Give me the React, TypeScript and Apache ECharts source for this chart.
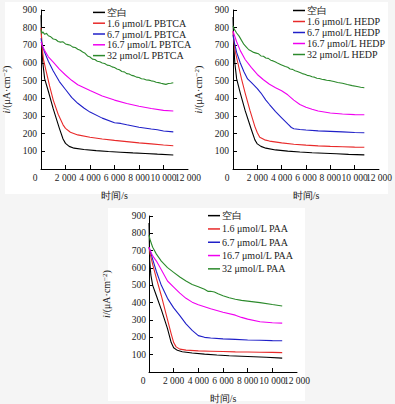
import React, { useEffect, useRef } from "react";
import * as echarts from "echarts";

type P = [number, number][];

const pbtcaNames = ["空白", "1.6 μmol/L PBTCA", "6.7 μmol/L PBTCA", "16.7 μmol/L PBTCA", "32 μmol/L PBTCA"];
const hedpNames = ["空白", "1.6 μmol/L HEDP", "6.7 μmol/L HEDP", "16.7 μmol/L HEDP", "32 μmol/L HEDP"];
const paaNames = ["空白", "1.6 μmol/L PAA", "6.7 μmol/L PAA", "16.7 μmol/L PAA", "32 μmol/L PAA"];

const xTicks = [0, 2000, 4000, 6000, 8000, 10000, 12000];
const yTicks = [0, 100, 200, 300, 400, 500, 600, 700, 800, 900];

// PBTCA
const pbtcaBlank: P = [[0,870],[50,720],[150,600],[300,510],[600,440],[1000,340],[1500,230],[1800,170],[2000,145],[2300,128],[2700,118],[3500,110],[4500,104],[5500,99],[6500,95],[7500,91],[8500,88],[9500,84],[10800,79]];
const pbtca16: P = [[0,800],[80,700],[200,620],[400,560],[700,470],[1000,390],[1400,310],[1800,250],[2000,230],[2400,208],[3000,193],[4000,180],[5000,170],[6000,162],[7000,155],[8000,148],[9000,142],[10000,136],[10800,132]];
const pbtca67: P = [[0,740],[100,700],[300,660],[600,610],[1000,555],[1500,495],[2000,450],[2500,405],[3000,372],[3500,345],[4000,322],[5000,288],[6000,262],[6500,258],[7000,250],[8000,236],[9000,226],[9500,222],[10000,215],[10800,210]];
const pbtca167: P = [[0,720],[100,700],[300,670],[600,635],[1000,605],[1500,565],[2000,532],[2500,502],[3000,477],[4000,444],[5000,413],[6000,390],[7000,371],[8000,355],[9000,342],[10000,332],[10800,328]];
const pbtca32: P = [[0,790],[60,768],[150,776],[300,762],[450,768],[600,754],[800,748],[1000,736],[1200,733],[1400,722],[1600,718],[1800,720],[2000,708],[2200,704],[2400,700],[2600,690],[2800,688],[3000,678],[3200,672],[3400,662],[3600,655],[3800,640],[4000,634],[4200,622],[4400,620],[4600,610],[4800,607],[5000,600],[5200,597],[5400,588],[5600,586],[5800,578],[6000,574],[6200,566],[6400,562],[6600,552],[6800,550],[7000,540],[7200,538],[7400,530],[7600,527],[7800,520],[8000,518],[8200,511],[8400,509],[8600,504],[8800,503],[9000,499],[9200,497],[9400,491],[9600,489],[9800,485],[10000,482],[10200,479],[10400,484],[10600,485],[10800,488]];

// HEDP
const hedpBlank: P = [[0,860],[50,720],[150,600],[300,510],[600,430],[1000,330],[1500,225],[1800,165],[2000,142],[2300,128],[2700,118],[3500,108],[4500,101],[5500,96],[6500,92],[7500,89],[8500,86],[9500,83],[10800,80]];
const hedp16: P = [[0,780],[80,720],[200,660],[400,600],[700,510],[1000,430],[1400,330],[1800,240],[2000,205],[2200,180],[2600,165],[3000,158],[4000,148],[5000,140],[6000,135],[7000,131],[8000,128],[9000,126],[10000,124],[10800,123]];
const hedp67: P = [[0,760],[100,720],[300,660],[600,600],[900,550],[1200,510],[1500,490],[2000,455],[2300,430],[2700,390],[3000,365],[3500,325],[4000,290],[4500,255],[4800,235],[5000,228],[5500,224],[6000,221],[7000,216],[8000,213],[9000,210],[10000,207],[10800,205]];
const hedp167: P = [[0,780],[100,760],[300,720],[600,670],[1000,620],[1500,575],[2000,535],[2500,505],[3000,480],[3500,460],[4000,443],[4500,420],[5000,390],[5500,365],[6000,350],[6500,338],[7000,328],[8000,317],[9000,311],[10000,308],[10800,307]];
const hedp32: P = [[0,810],[100,792],[300,770],[500,752],[700,728],[900,705],[1100,690],[1300,675],[1500,668],[1700,660],[1900,656],[2100,652],[2300,640],[2500,638],[2700,628],[2900,626],[3100,616],[3300,612],[3500,606],[3700,598],[3900,592],[4100,586],[4300,580],[4500,576],[4700,566],[4900,564],[5100,556],[5300,552],[5500,546],[5700,540],[5900,536],[6100,530],[6300,528],[6500,522],[6700,520],[6900,514],[7100,512],[7300,508],[7500,506],[7700,502],[8000,500],[8300,495],[8600,490],[9000,485],[9400,478],[9800,472],[10200,467],[10500,463],[10800,460]];

// PAA
const paaBlank: P = [[0,860],[50,650],[150,560],[300,500],[600,440],[1000,360],[1500,250],[1800,170],[2000,140],[2300,125],[2700,117],[3500,110],[4500,103],[5500,98],[6500,94],[7500,91],[8500,88],[9500,85],[10800,80]];
const paa16: P = [[0,720],[100,680],[300,620],[600,540],[1000,440],[1400,330],[1800,220],[2000,170],[2200,145],[2500,132],[3000,126],[4000,122],[5000,120],[6000,118],[7000,116],[8000,115],[9000,114],[10000,113],[10800,112]];
const paa67: P = [[0,720],[100,700],[300,650],[600,580],[1000,500],[1500,425],[2000,370],[2500,325],[3000,278],[3500,240],[4000,210],[4500,200],[5000,196],[6000,191],[7000,188],[8000,185],[9000,183],[10000,181],[10800,180]];
const paa167: P = [[0,720],[100,700],[300,670],[600,640],[1000,590],[1500,525],[2000,490],[2500,455],[3000,425],[3500,403],[4000,388],[5000,365],[6000,345],[7000,328],[7500,315],[8000,305],[9000,290],[10000,284],[10800,282]];
const paa32: P = [[0,790],[100,760],[300,720],[600,680],[1000,640],[1500,602],[2000,575],[2500,548],[3000,525],[3500,505],[4000,492],[4500,477],[4800,465],[5000,466],[5300,462],[5600,452],[6000,440],[6500,428],[7000,420],[7500,413],[8000,409],[9000,400],[10000,389],[10800,381]];

const colors = ["#000000", "#e82a2a", "#2020c8", "#f000f0", "#2c8a2c"];

const FONT = "Liberation Serif";

const fmtX = (v: number) => (v === 0 ? "{z|0}" : `${v / 1000} 000`);

export default function App() {
  const ref = useRef<HTMLDivElement>(null);
  useEffect(() => {
    if (!ref.current) return;
    const chart = echarts.init(ref.current, null, { renderer: "svg" });
    const groups = [
      { names: pbtcaNames, data: [pbtcaBlank, pbtca16, pbtca67, pbtca167, pbtca32] },
      { names: hedpNames, data: [hedpBlank, hedp16, hedp67, hedp167, hedp32] },
      { names: paaNames, data: [paaBlank, paa16, paa67, paa167, paa32] },
    ];
    const grids = [
      { left: 38, top: 10, width: 150, height: 159 },
      { left: 233, top: 10, width: 147, height: 159 },
      { left: 149, top: 216, width: 148, height: 159 },
    ];
    const yNameGaps = [29, 29, 37];
    const legendPos = [
      { left: 93, top: 7, lh: 10.8 },
      { left: 293, top: 5, lh: 11 },
      { left: 208, top: 209, lh: 13.3 },
    ];
    const labelStyle = { fontFamily: FONT, fontSize: 9.5, color: "#222" };
    const lastX = xTicks[xTicks.length - 1];
    const series: any[] = [];
    groups.forEach((g, gi) => {
      g.data.forEach((d, si) => {
        series.push({
          type: "line",
          name: g.names[si],
          xAxisIndex: gi,
          yAxisIndex: gi,
          data: d,
          showSymbol: false,
          symbol: "none",
          lineStyle: { color: colors[si], width: 1.1 },
          itemStyle: { color: colors[si] },
        });
      });
    });
    const mainX = grids.map((_, i) => ({
      type: "value",
      gridIndex: i,
      position: "bottom",
      offset: 0,
      min: xTicks[0],
      max: lastX,
      interval: 2000,
      name: "时间/s",
      nameLocation: "middle",
      nameGap: 21,
      nameTextStyle: { fontFamily: FONT, fontSize: 10, color: "#222" },
      axisLine: { show: true, lineStyle: { color: "#000", width: 1 } },
      axisTick: { show: true, inside: true, length: 4, lineStyle: { color: "#000" } },
      splitLine: { show: false },
      axisLabel: {
        ...labelStyle,
        margin: 4,
        interval: 0,
        showMinLabel: true,
        showMaxLabel: false,
        formatter: (v: number) => (v === lastX ? "" : fmtX(v)),
        rich: { z: { fontFamily: FONT, fontSize: 9.5, color: "#222", padding: [0, 12, 0, 0] } },
      },
    }));
    const maxLabelX = grids.map((_, i) => ({
      type: "value",
      gridIndex: i,
      position: "bottom",
      offset: 0,
      min: xTicks[0],
      max: lastX,
      interval: 2000,
      axisLine: { show: false },
      axisTick: { show: false },
      splitLine: { show: false },
      axisLabel: {
        ...labelStyle,
        margin: 4,
        interval: 0,
        showMinLabel: false,
        showMaxLabel: true,
        formatter: (v: number) => (v === lastX ? fmtX(v) : ""),
      },
    }));
    const option: any = {
      animation: false,
      backgroundColor: "#f5f5f5",
      graphic: [
        { type: "rect", z: -100, silent: true, shape: { x: 5, y: 2, width: 383, height: 192 }, style: { fill: "#ffffff" } },
        { type: "rect", z: -100, silent: true, shape: { x: 108, y: 208, width: 197, height: 193 }, style: { fill: "#ffffff" } },
      ],
      grid: grids,
      xAxis: [...mainX, ...maxLabelX],
      yAxis: grids.map((_, i) => ({
        type: "value",
        gridIndex: i,
        min: yTicks[0],
        max: yTicks[yTicks.length - 1],
        interval: 100,
        name: "{it|i}/(μA·cm{sup|−2})",
        nameLocation: "middle",
        nameGap: yNameGaps[i],
        nameTextStyle: {
          fontFamily: FONT,
          fontSize: 10,
          color: "#222",
          rich: {
            it: { fontFamily: FONT, fontSize: 10, fontStyle: "italic", color: "#222" },
            sup: { fontFamily: FONT, fontSize: 7, color: "#222", verticalAlign: "top", padding: [0, 0, 4, 0] },
          },
        },
        axisLine: { show: true, lineStyle: { color: "#000", width: 1 } },
        axisTick: { show: true, inside: true, length: 4, lineStyle: { color: "#000" } },
        splitLine: { show: false },
        axisLabel: {
          ...labelStyle,
          margin: i === 2 ? 3 : 4,
          interval: 0,
          formatter: (v: number) => (v === 0 ? "" : String(v)),
        },
      })),
      legend: groups.map((g, i) => ({
        show: true,
        orient: "vertical",
        left: legendPos[i].left,
        top: legendPos[i].top,
        data: g.names,
        icon: "rect",
        itemWidth: 12,
        itemHeight: 1.5,
        itemGap: 0,
        padding: 0,
        selectedMode: false,
        textStyle: { fontFamily: FONT, fontSize: 10, color: "#222", lineHeight: legendPos[i].lh, padding: [0, 0, 0, -3] },
      })),
      series,
    };
    chart.setOption(option);
    return () => chart.dispose();
  }, []);
  return <div ref={ref} style={{ position: "absolute", left: 0, top: 0, width: 395, height: 404 }} />;
}
